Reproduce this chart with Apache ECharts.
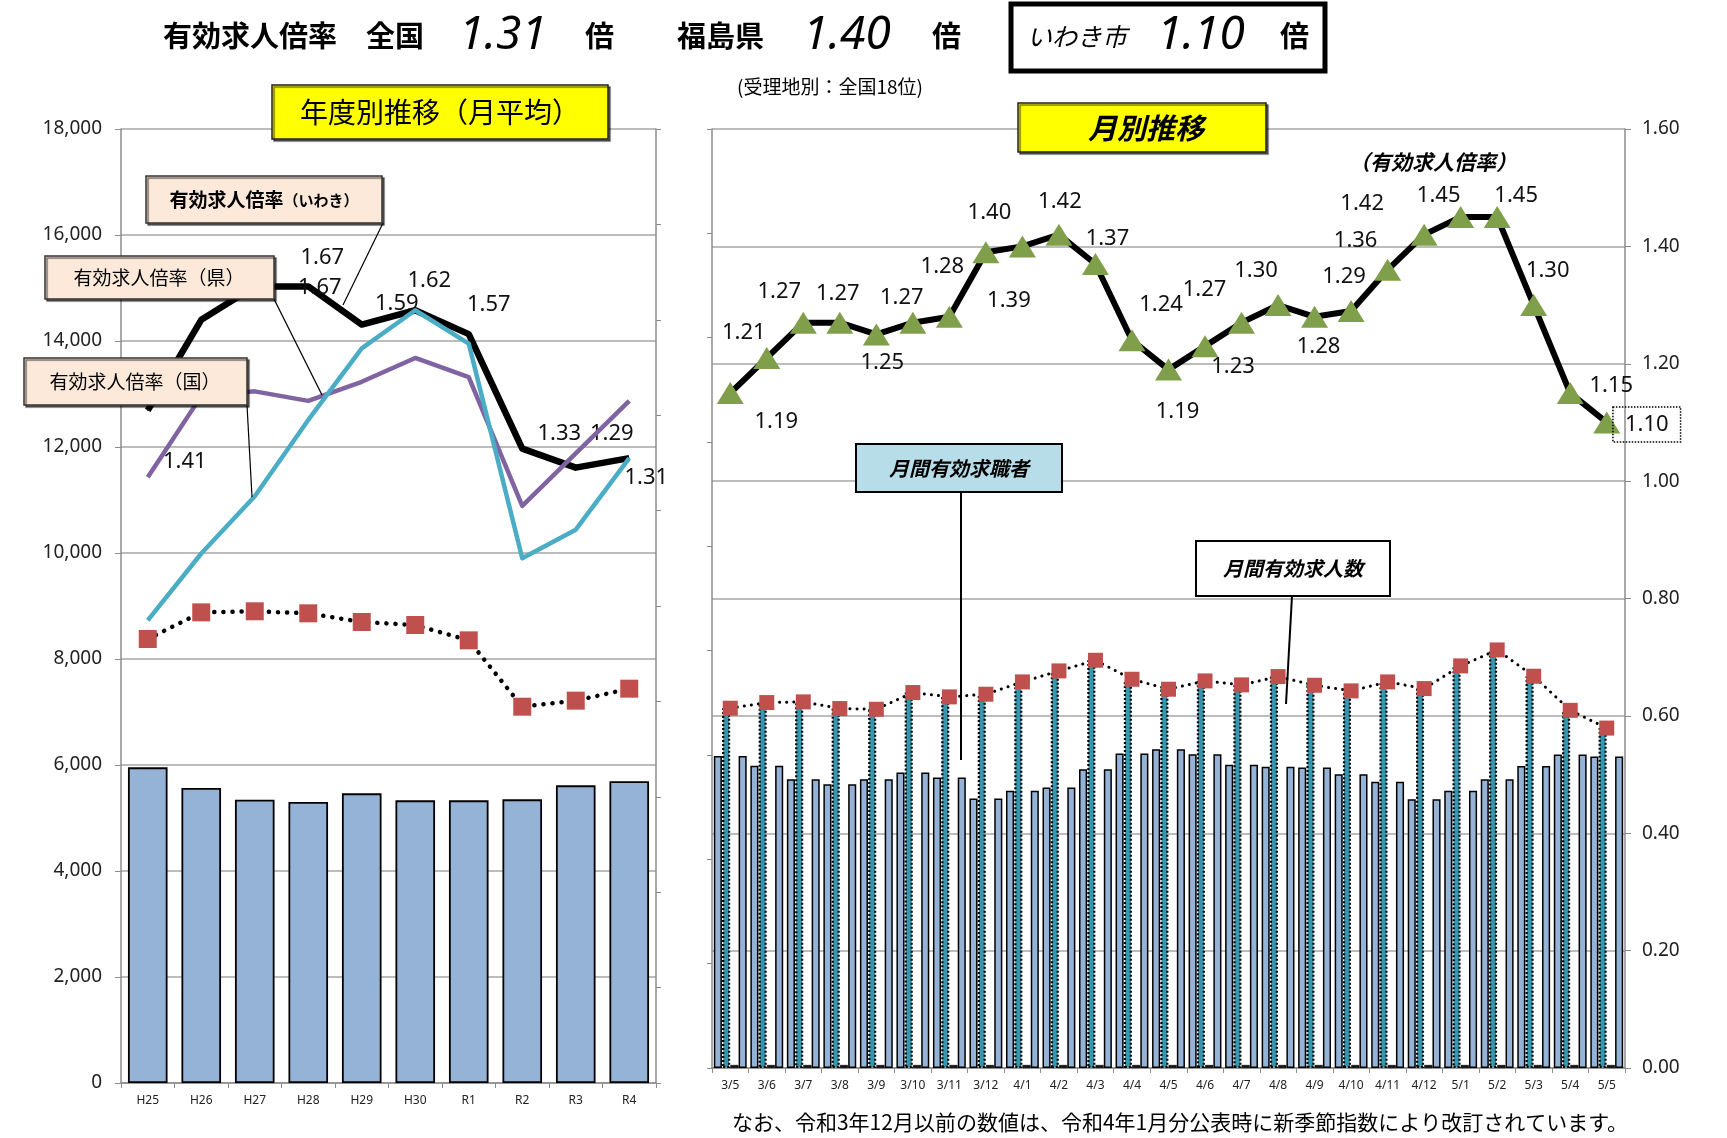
<!DOCTYPE html>
<html><head><meta charset="utf-8">
<script src="https://cdn.jsdelivr.net/npm/echarts@6/dist/echarts.min.js"></script>
<style>html,body{margin:0;padding:0;background:#fff;}#c{width:1727px;height:1138px;}</style>
</head><body><div id="c"></div>
<script>
// ---------- data ----------
const years = ['H25','H26','H27','H28','H29','H30','R1','R2','R3','R4'];
const yearSeekers = [5956,5566,5346,5302,5465,5333,5333,5352,5616,5692];
const yearOpenings = [8377,8880,8900,8862,8698,8642,8352,7100,7214,7440];
const yearRateIwaki = [1.41,1.60,1.67,1.67,1.59,1.62,1.57,1.33,1.29,1.31];
const yearRatePref = [1.27,1.44,1.45,1.43,1.47,1.52,1.48,1.21,1.32,1.43];
const yearRateNation = [0.97,1.11,1.23,1.39,1.54,1.62,1.55,1.10,1.16,1.31];

const months = ['3/5','3/6','3/7','3/8','3/9','3/10','3/11','3/12','4/1','4/2','4/3','4/4','4/5','4/6','4/7','4/8','4/9','4/10','4/11','4/12','5/1','5/2','5/3','5/4','5/5'];
const monthSeekers = [5983,5792,5537,5441,5537,5664,5569,5166,5313,5377,5728,6028,6111,6015,5811,5773,5760,5632,5485,5153,5313,5537,5790,6009,5972];
const monthOpenings = [6897,7005,7018,6890,6877,7197,7114,7165,7401,7612,7816,7452,7261,7420,7344,7503,7337,7229,7401,7273,7708,8014,7510,6856,6516];
const monthRate = [1.15,1.21,1.27,1.27,1.25,1.27,1.28,1.39,1.40,1.42,1.37,1.24,1.19,1.23,1.27,1.30,1.28,1.29,1.36,1.42,1.45,1.45,1.30,1.15,1.10];
const monthRateLabels = ['1.19','1.21','1.27','1.27','1.25','1.27','1.28','1.39','1.40','1.42','1.37','1.24','1.19','1.23','1.27','1.30','1.28','1.29','1.36','1.42','1.45','1.45','1.30','1.15','1.10'];

// label placement (style only)
const iwakiLabelOffsets = [[37,51],null,[65,1],[14,-29],[35,-21],[14,-30],[20,-29],[37,-15],[36,-34],[17,20]];
const monthLabelOffsets = [[46,29],[-23,-25],[-24,-31],[-2,-29],[6,28],[-11,-25],[-7,-50],[23,48],[-33,-34],[1,-33],[12,-25],[29,-36],[9,42],[28,21],[-37,-33],[-22,-34],[4,30],[-7,-34],[-32,-29],[-62,-31],[-22,-21],[19,-21],[14,-34],[41,-7],[40,2]];

// ---------- chart ----------
const CJK = '"Noto Sans CJK JP", sans-serif';
const NUM = '"Noto Sans", "Liberation Sans", sans-serif';
const gridColor = '#a6a6a6';
const axisColor = '#8c8c8c';

function txt(text, x, y, font, align, extra) {
  return {type:'text', z:120, style:Object.assign({text:text, x:x, y:y, font:font, fill:'#000',
    textAlign:align||'left', textVerticalAlign:'middle', align:align||'left', verticalAlign:'middle'}, extra||{})};
}
function box(x,y,w,h,fill,stroke,lw,shadow){
  const st = {fill:fill, stroke:stroke, lineWidth:lw};
  if (shadow) { st.shadowColor='rgba(0,0,0,0.55)'; st.shadowOffsetX=2; st.shadowOffsetY=2; st.shadowBlur=1; }
  return {type:'rect', z:110, shape:{x:x,y:y,width:w,height:h}, style:st};
}
function seg(x1,y1,x2,y2,lw){
  return {type:'line', z:105, shape:{x1:x1,y1:y1,x2:x2,y2:y2}, style:{stroke:'#000', lineWidth:lw||1.2}};
}

const chart = echarts.init(document.getElementById('c'), null, {renderer:'canvas'});

const catAxisCommon = {
  type:'category',
  axisLine:{show:true, lineStyle:{color:axisColor, width:1.5}},
  axisTick:{show:true, alignWithLabel:false, length:5, lineStyle:{color:axisColor}},
  axisLabel:{fontSize:12, color:'#222', fontFamily:NUM, margin:12, interval:0},
  splitLine:{show:false}
};

const option = {
  animation:false,
  backgroundColor:'#fff',
  grid:[
    {left:121, top:129, width:535, height:954, outerBoundsMode:'none', containLabel:false},
    {left:712, top:129, width:913, height:939, outerBoundsMode:'none', containLabel:false}
  ],
  xAxis:[
    Object.assign({}, catAxisCommon, {gridIndex:0, data:years}),
    Object.assign({}, catAxisCommon, {gridIndex:1, data:months})
  ],
  yAxis:[
    {gridIndex:0, type:'value', position:'left', min:0, max:18000, interval:2000,
     axisLine:{show:true, lineStyle:{color:axisColor, width:1.5}},
     axisTick:{show:true, length:6, lineStyle:{color:axisColor}},
     axisLabel:{formatter:v=>v.toLocaleString('en-US'), fontSize:19, color:'#222', fontFamily:NUM, margin:19},
     splitLine:{show:true, lineStyle:{color:gridColor, width:1.5}}},
    {gridIndex:0, type:'value', position:'right', min:0, max:2, interval:0.2,
     axisLine:{show:true, lineStyle:{color:axisColor, width:1.5}},
     axisTick:{show:true, length:5, lineStyle:{color:axisColor}},
     axisLabel:{show:false}, splitLine:{show:false}},
    {gridIndex:1, type:'value', position:'left', min:0, max:18000, interval:2000,
     axisLine:{show:true, lineStyle:{color:axisColor, width:1.5}},
     axisTick:{show:true, length:5, lineStyle:{color:axisColor}},
     axisLabel:{show:false}, splitLine:{show:false}},
    {gridIndex:1, type:'value', position:'right', min:0, max:1.6, interval:0.2,
     axisLine:{show:true, lineStyle:{color:axisColor, width:1.5}},
     axisTick:{show:true, length:6, lineStyle:{color:axisColor}},
     axisLabel:{formatter:v=>v.toFixed(2), fontSize:19, color:'#222', fontFamily:NUM, margin:17},
     splitLine:{show:true, lineStyle:{color:gridColor, width:1.5}}}
  ],
  series:[
    // ---- left chart ----
    {type:'bar', xAxisIndex:0, yAxisIndex:0, data:yearSeekers, barCategoryGap:'26%',
     itemStyle:{color:'#95b3d7', borderColor:'#000', borderWidth:1.8}},
    {type:'line', xAxisIndex:0, yAxisIndex:0, data:yearOpenings, symbol:'rect', symbolSize:18,
     itemStyle:{color:'#c0504d'}, lineStyle:{color:'#000', width:4.5, type:[0.1,9], cap:'round'}, z:3},
    {type:'line', xAxisIndex:0, yAxisIndex:1, symbol:'circle', symbolSize:1,
     data:yearRateIwaki.map((v,i)=>({value:v, label:{show: iwakiLabelOffsets[i]!==null, offset: iwakiLabelOffsets[i]||[0,0]}})),
     itemStyle:{color:'#000'}, lineStyle:{color:'#000', width:6.5, join:'round'},
     label:{position:'inside', fontSize:22, color:'#111', fontFamily:NUM, formatter:p=>p.value.toFixed(2)}, z:4},
    {type:'line', xAxisIndex:0, yAxisIndex:1, data:yearRatePref, showSymbol:false, symbol:'none',
     lineStyle:{color:'#8064a2', width:4.5, join:'round'}, z:5},
    {type:'line', xAxisIndex:0, yAxisIndex:1, data:yearRateNation, showSymbol:false, symbol:'none',
     lineStyle:{color:'#4bacc6', width:4.5, join:'round'}, z:6},

    // ---- right chart ----
    {type:'bar', xAxisIndex:1, yAxisIndex:2, data:monthSeekers, barCategoryGap:'10%', barGap:'2%',
     itemStyle:{color:'#95b3d7', borderColor:'#000', borderWidth:1.5}},
    {type:'bar', xAxisIndex:1, yAxisIndex:2, data:monthOpenings, barCategoryGap:'10%', barGap:'2%',
     itemStyle:{color:'#3596ad', borderColor:'#000', borderWidth:2.2, borderType:[2,2]}},
    {type:'bar', xAxisIndex:1, yAxisIndex:2, data:monthRate, barCategoryGap:'10%', barGap:'2%', barMinHeight:3,
     itemStyle:{color:'#111', borderColor:'#000', borderWidth:0.5}},
    {type:'bar', xAxisIndex:1, yAxisIndex:2, data:monthSeekers, barCategoryGap:'10%', barGap:'2%',
     itemStyle:{color:'#95b3d7', borderColor:'#000', borderWidth:1.5}},
    {type:'line', xAxisIndex:1, yAxisIndex:2, data:monthOpenings, symbol:'rect', symbolSize:15,
     itemStyle:{color:'#c0504d'}, lineStyle:{color:'#000', width:3, type:[0.1,7], cap:'round'}, z:5},
    {type:'line', xAxisIndex:1, yAxisIndex:3, symbol:'triangle', symbolSize:[27,22],
     data:monthRate.map((v,i)=>{
       const item = {value:v, label:{offset:monthLabelOffsets[i], formatter:monthRateLabels[i]}};
       if (i === monthRate.length-1) {
         item.label.borderType='dotted'; item.label.borderColor='#000'; item.label.borderWidth=1.5; item.label.padding=[7,12,6,12];
       }
       return item;
     }),
     itemStyle:{color:'#7f9f4a'}, lineStyle:{color:'#000', width:6, join:'round'},
     label:{show:true, position:'inside', fontSize:22, color:'#111', fontFamily:NUM}, z:6}
  ],
  graphic:[
    // headline
    txt('有効求人倍率', 163, 36, 'bold 29px '+CJK),
    txt('全国', 366, 36, 'bold 29px '+CJK),
    txt('1.31', 459, 36, 'italic 46px '+NUM),
    txt('倍', 585, 36, 'bold 29px '+CJK),
    txt('福島県', 677, 36, 'bold 29px '+CJK),
    txt('1.40', 803, 36, 'italic 46px '+NUM),
    txt('倍', 932, 36, 'bold 29px '+CJK),
    {type:'rect', z:110, shape:{x:1011, y:4, width:314, height:67}, style:{fill:'none', stroke:'#000', lineWidth:5}},
    txt('いわき市', 1027, 36, 'italic 25px '+CJK),
    txt('1.10', 1157, 36, 'italic 46px '+NUM),
    txt('倍', 1280, 36, 'bold 29px '+CJK),
    txt('(受理地別：全国18位)', 737, 87, '19px '+CJK),
    // left title
    box(272, 85, 336, 54, '#ffff00', '#222', 1.5, true),
    txt('年度別推移（月平均）', 440, 112, '28px '+CJK, 'center'),
    // right title
    box(1018, 103, 248, 49, '#ffff00', '#222', 1.5, true),
    txt('月別推移', 1146, 128, 'italic bold 29px '+CJK, 'center'),
    txt('（有効求人倍率）', 1433, 162, 'italic bold 21px '+CJK, 'center'),
    // left callouts
    seg(383, 223, 343, 305, 1.2),
    box(146, 176, 236, 47, '#fde9d9', '#333', 1.5, true),
    {type:'text', z:120, style:{text:'{a|有効求人倍率}{b|（いわき）}', x:264, y:200, textAlign:'center', textVerticalAlign:'middle', align:'center', verticalAlign:'middle',
      rich:{a:{font:'bold 19px '+CJK, fill:'#000'}, b:{font:'bold 15px '+CJK, fill:'#000'}}}},
    seg(274, 299, 322, 395, 1.2),
    box(45, 256, 229, 43, '#fde9d9', '#333', 1.5, true),
    txt('有効求人倍率（県）', 159, 278, '19px '+CJK, 'center'),
    seg(247, 405, 252, 497, 1.2),
    box(24, 358, 223, 47, '#fde9d9', '#333', 1.5, true),
    txt('有効求人倍率（国）', 135, 382, '19px '+CJK, 'center'),
    // right callouts
    seg(961, 492, 961, 760, 2),
    box(856, 444, 206, 48, '#b7dde8', '#000', 2, false),
    txt('月間有効求職者', 959, 468, 'italic bold 20px '+CJK, 'center'),
    seg(1292, 596, 1286, 704, 2),
    box(1196, 541, 194, 55, '#ffffff', '#000', 2, false),
    txt('月間有効求人数', 1293, 568, 'italic bold 20px '+CJK, 'center'),
    // note
    txt('なお、令和3年12月以前の数値は、令和4年1月分公表時に新季節指数により改訂されています。', 1180, 1122, '21px '+CJK, 'center')
  ]
};
chart.setOption(option);
</script>
</body></html>
